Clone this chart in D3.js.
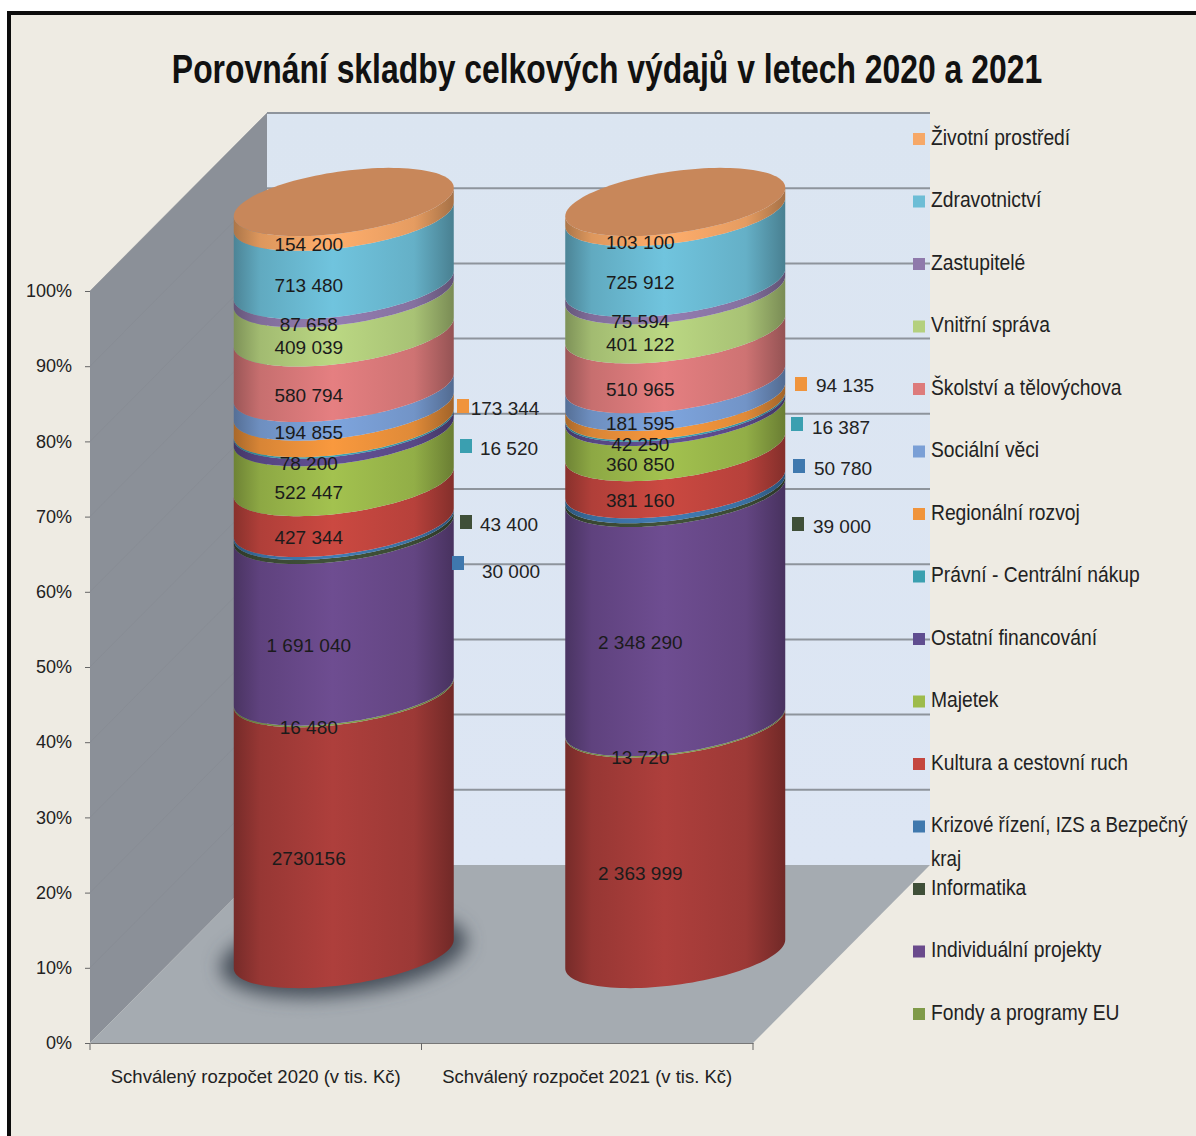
<!DOCTYPE html>
<html>
<head>
<meta charset="utf-8">
<style>
body { margin: 0; background: #fff; }
svg { display: block; font-family: "Liberation Sans", sans-serif; }
</style>
<script src="https://cdn.jsdelivr.net/npm/d3@7"></script>
</head>
<body>
<div id="chart"></div>
<script>
var categories = ["Schválený rozpočet 2020 (v tis. Kč)", "Schválený rozpočet 2021 (v tis. Kč)"];

// bottom to top. the big bottom band has no entry in the legend of the original
var seriesNames = ["", "Fondy a programy EU", "Individuální projekty", "Informatika",
	"Krizové řízení, IZS a Bezpečný kraj", "Kultura a cestovní ruch", "Majetek", "Ostatní financování",
	"Právní - Centrální nákup", "Regionální rozvoj", "Sociální věci", "Školství a tělovýchova",
	"Vnitřní správa", "Zastupitelé", "Zdravotnictví", "Životní prostředí"];
var values2020 = [2730156, 16480, 1691040, 43400, 30000, 427344, 522447, 78200, 16520, 173344, 194855, 580794, 409039, 87658, 713480, 154200];
var values2021 = [2363999, 13720, 2348290, 39000, 50780, 381160, 360850, 42250, 16387, 94135, 181595, 510965, 401122, 75594, 725912, 103100];
var valueLabels2020 = ["2730156", "16 480", "1 691 040", "43 400", "30 000", "427 344", "522 447", "78 200", "16 520", "173 344", "194 855", "580 794", "409 039", "87 658", "713 480", "154 200"];
var valueLabels2021 = ["2 363 999", "13 720", "2 348 290", "39 000", "50 780", "381 160", "360 850", "42 250", "16 387", "94 135", "181 595", "510 965", "401 122", "75 594", "725 912", "103 100"];
var seriesColours = ["#a83d3a", "#7f9a48", "#6a4a8c", "#3f4f38", "#3f78ae", "#c4463f", "#9dbb4c", "#5f4d90", "#3a9fb0", "#f0943c", "#7a9fd6", "#dd7b7c", "#b4d07e", "#8f79ab", "#6cbdd6", "#f6a868"];

var width = 1196, height = 1136;
var frameX = 9, frameY = 13;

// chart geometry, the front plane plus a depth offset for the back wall
var plotLeft = 90, plotRight = 753, plotBottom = 1043, plotTop = 291;
var depthX = 177, depthY = 178;
var cylDepthX = 88, cylDepthY = 89;
var radiusX = 110, radiusY = 31, tilt = -0.13;
var labelDrop = 35, labelShift = -35;

// hand placed value labels next to the thin bands, as in the original
var callouts = [
	{ 9: { kx: 463, ky: 406, tx: 505, ty: 408 }, 8: { kx: 466, ky: 446, tx: 509, ty: 448 }, 3: { kx: 466, ky: 522, tx: 509, ty: 524 }, 4: { kx: 458, ky: 563, tx: 511, ty: 571 } },
	{ 9: { kx: 801, ky: 384, tx: 845, ty: 385 }, 8: { kx: 797, ky: 424, tx: 841, ty: 427 }, 4: { kx: 799, ky: 466, tx: 843, ty: 468 }, 3: { kx: 798, ky: 524, tx: 842, ty: 526 } }
];

var svg = d3.select("#chart").append("svg").attr("width", width).attr("height", height);
var defs = svg.append("defs");

var x = d3.scaleBand().domain(categories).range([plotLeft, plotRight]);
var y = d3.scaleLinear().domain([0, 1]).range([plotBottom, plotTop]);

// cylinder shading, one horizontal gradient per colour
seriesColours.forEach(function(c, i) {
	var g = defs.append("linearGradient").attr("id", "cyl" + i);
	var stops = [[0, d3.rgb(c).darker(1.0)], [0.12, d3.rgb(c).darker(0.3)], [0.45, d3.rgb(c).brighter(0.1)], [0.82, d3.rgb(c).darker(0.2)], [1, d3.rgb(c).darker(1.1)]];
	stops.forEach(function(s) {
		g.append("stop").attr("offset", s[0]).attr("stop-color", s[1]);
	});
});
var wallGrad = defs.append("linearGradient").attr("id", "backWall").attr("x1", 0).attr("x2", 0).attr("y1", 0).attr("y2", 1);
wallGrad.append("stop").attr("offset", 0).attr("stop-color", "#dbe5f1");
wallGrad.append("stop").attr("offset", 1).attr("stop-color", "#dde6f4");
defs.append("filter").attr("id", "soft").attr("x", "-20%").attr("y", "-40%").attr("width", "140%").attr("height", "180%")
	.append("feGaussianBlur").attr("stdDeviation", 9);

// background and black frame
svg.append("rect").attr("x", frameX).attr("y", frameY).attr("width", width).attr("height", height).attr("fill", "#eeebe3");
svg.append("path").attr("d", "M" + frameX + "," + height + "V" + frameY + "H" + width)
	.attr("fill", "none").attr("stroke", "#0c0c0c").attr("stroke-width", 4);

// the font is wider than the Calibri of the original, so text gets squeezed sideways
svg.append("text").attr("transform", "translate(607,83) scale(0.778,1)").attr("text-anchor", "middle")
	.attr("font-size", 41).attr("font-weight", "bold").attr("fill", "#111")
	.text("Porovnání skladby celkových výdajů v letech 2020 a 2021");

// walls and floor
var line = d3.line();
var backLeft = plotLeft + depthX, backRight = plotRight + depthX;
var ticks = d3.range(0, 11).map(function(d) { return d / 10; });

svg.append("rect").attr("x", backLeft).attr("y", y(1) - depthY)
	.attr("width", backRight - backLeft).attr("height", y(0) - y(1))
	.attr("fill", "url(#backWall)");
svg.append("path").attr("d", line([[plotLeft, y(1)], [backLeft, y(1) - depthY], [backLeft, y(0) - depthY], [plotLeft, y(0)]]) + "Z")
	.attr("fill", "#8b9098");
svg.append("path").attr("d", line([[plotLeft, y(0)], [plotRight, y(0)], [backRight, y(0) - depthY], [backLeft, y(0) - depthY]]) + "Z")
	.attr("fill", "#a5abb1");

svg.append("g").selectAll("line").data(ticks.slice(1)).enter().append("line")
	.attr("x1", backLeft).attr("x2", backRight)
	.attr("y1", function(d) { return y(d) - depthY; })
	.attr("y2", function(d) { return y(d) - depthY; })
	.attr("stroke", "#8e949c").attr("stroke-width", 2);
svg.append("g").selectAll("line").data(ticks.slice(1)).enter().append("line")
	.attr("x1", plotLeft).attr("x2", backLeft)
	.attr("y1", function(d) { return y(d); })
	.attr("y2", function(d) { return y(d) - depthY; })
	.attr("stroke", "#858a92").attr("stroke-width", 1).attr("stroke-opacity", 0.5);

// shear of an ellipse, keeps the side silhouette exactly vertical
function ellipsePoint(cx, cy, t) {
	return [cx + radiusX * Math.cos(t), cy + radiusY * Math.sin(t) + tilt * radiusX * Math.cos(t)];
}
var angles = d3.range(0, 61).map(function(d) { return d / 60 * Math.PI; });

function bandPath(cx, yLow, yHigh) {
	var lower = angles.map(function(t) { return ellipsePoint(cx, yLow, t); });
	var upper = angles.slice().reverse().map(function(t) { return ellipsePoint(cx, yHigh, t); });
	return line(lower.concat(upper)) + "Z";
}

var stacks = [values2020, values2021].map(function(vals) {
	var total = d3.sum(vals), run = 0;
	return vals.map(function(v, i) {
		var b = { i: i, low: run / total, high: (run + v) / total };
		run += v;
		return b;
	});
});

stacks.forEach(function(stack, c) {
	var cx = x(categories[c]) + x.bandwidth() / 2 + cylDepthX;
	var colG = svg.append("g").attr("class", "cylinder");
	var cyBase = y(0) - cylDepthY, cyTop = y(1) - cylDepthY;

	// shadow on the floor, only the first column has a real one
	if (c == 0) {
		colG.append("ellipse").attr("cx", cx).attr("cy", cyBase)
			.attr("rx", radiusX + 14).attr("ry", radiusY + 10)
			.attr("transform", "rotate(-7 " + cx + " " + cyBase + ")")
			.attr("fill", "#47505a").attr("filter", "url(#soft)");
	}

	colG.selectAll(".band").data(stack).enter().append("path")
		.attr("class", "band")
		.attr("d", function(d) { return bandPath(cx, y(d.low) - cylDepthY, y(d.high) - cylDepthY); })
		.attr("fill", function(d) { return "url(#cyl" + d.i + ")"; });

	var topPts = d3.range(0, 121).map(function(d) { return ellipsePoint(cx, cyTop, d / 120 * 2 * Math.PI); });
	colG.append("path").attr("d", line(topPts) + "Z").attr("fill", "#c8875a");
});

// value labels on the cylinders and the thin ones beside them
stacks.forEach(function(stack, c) {
	var cx = x(categories[c]) + x.bandwidth() / 2 + cylDepthX;
	var texts = c == 0 ? valueLabels2020 : valueLabels2021;
	var spots = callouts[c];
	var inside = stack.filter(function(d) { return !spots[d.i]; });
	var outside = stack.filter(function(d) { return spots[d.i]; });

	svg.append("g").selectAll("text").data(inside).enter().append("text")
		.attr("x", cx + labelShift)
		.attr("y", function(d) { return y((d.low + d.high) / 2) - cylDepthY + labelDrop; })
		.attr("dy", "0.35em").attr("text-anchor", "middle")
		.attr("font-size", 19).attr("fill", "#1b1b1b")
		.text(function(d) { return texts[d.i]; });

	svg.append("g").selectAll("rect").data(outside).enter().append("rect")
		.attr("x", function(d) { return spots[d.i].kx - 6; })
		.attr("y", function(d) { return spots[d.i].ky - 7; })
		.attr("width", 12).attr("height", 14)
		.attr("fill", function(d) { return seriesColours[d.i]; });
	svg.append("g").selectAll("text").data(outside).enter().append("text")
		.attr("x", function(d) { return spots[d.i].tx; })
		.attr("y", function(d) { return spots[d.i].ty; })
		.attr("dy", "0.35em").attr("text-anchor", "middle")
		.attr("font-size", 19).attr("fill", "#222")
		.text(function(d) { return texts[d.i]; });
});

// axes
var yAxis = svg.append("g").attr("transform", "translate(" + plotLeft + ",0)")
	.call(d3.axisLeft(y).tickValues(ticks).tickFormat(d3.format(".0%")).tickSize(5).tickPadding(13));
yAxis.select(".domain").remove();
yAxis.selectAll("line").attr("stroke", "#666");
yAxis.selectAll("text").attr("font-size", 18).attr("font-family", "inherit").attr("fill", "#222");

var xAxis = svg.append("g").attr("transform", "translate(0," + plotBottom + ")")
	.call(d3.axisBottom(x).tickSize(0).tickPadding(27));
xAxis.select(".domain").attr("stroke", "#777");
xAxis.selectAll("text").attr("font-size", 18.5).attr("font-family", "inherit").attr("fill", "#222");
xAxis.selectAll(".edge").data([plotLeft, x(categories[1]), plotRight]).enter().append("line")
	.attr("class", "edge").attr("x1", function(d) { return d; }).attr("x2", function(d) { return d; })
	.attr("y1", 0).attr("y2", 7).attr("stroke", "#666");

// legend, top entry first
var legendItems = seriesNames.map(function(n, i) { return { name: n, i: i }; })
	.filter(function(d) { return d.name != ""; }).reverse();
var legendY = d3.scalePoint().domain(legendItems.map(function(d) { return d.name; })).range([137, 1012]);

var legend = svg.append("g").selectAll("g").data(legendItems).enter().append("g")
	.attr("transform", function(d) { return "translate(918," + legendY(d.name) + ")"; });
legend.append("rect").attr("x", -5).attr("y", -4).attr("width", 12).attr("height", 12)
	.attr("fill", function(d) { return seriesColours[d.i]; });
legend.append("text")
	.attr("transform", function(d) { return "translate(13,0) scale(" + (d.i == 4 ? 0.85 : 0.876) + ",1)"; })
	.attr("font-size", 22).attr("fill", "#222")
	.each(function(d) {
		// the long entry wraps after "Bezpečný"
		var parts = d.i == 4 ? ["Krizové řízení, IZS a Bezpečný", "kraj"] : [d.name];
		d3.select(this).selectAll("tspan").data(parts).enter().append("tspan")
			.attr("x", 0).attr("dy", function(p, j) { return j == 0 ? "0.35em" : 34; })
			.text(function(p) { return p; });
	});
</script>
</body>
</html>
